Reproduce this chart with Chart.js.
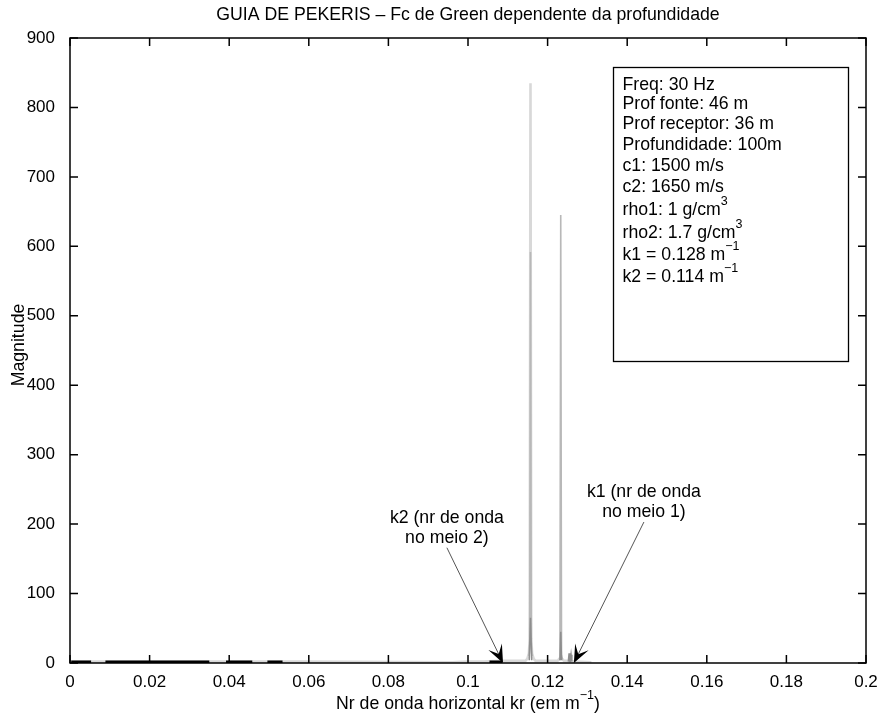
<!DOCTYPE html>
<html>
<head>
<meta charset="utf-8">
<script src="https://cdn.jsdelivr.net/npm/chart.js@4.4.0/dist/chart.umd.min.js"></script>
<style>
  html, body { margin: 0; padding: 0; background: #fff; }
</style>
</head>
<body>
<canvas id="greenChart" width="883" height="718"></canvas>
<script>
// axis ticks
var xTicks = [0, 0.02, 0.04, 0.06, 0.08, 0.1, 0.12, 0.14, 0.16, 0.18, 0.2];
var yTicks = [0, 100, 200, 300, 400, 500, 600, 700, 800, 900];

// light gray trace: baseline and the tall peak near kr = 0.1157
var krLight  = [0, 0.02, 0.04, 0.058, 0.096, 0.100, 0.104, 0.108, 0.111, 0.113, 0.1144, 0.1149, 0.1153, 0.1155, 0.1157, 0.1159, 0.1161, 0.1165, 0.1170, 0.119, 0.121, 0.1225, 0.1229, 0.1233, 0.1237, 0.1241, 0.125, 0.127, 0.131];
var magLight = [2, 2, 2, 2, 1, 2, 2, 3, 3, 3, 3, 6, 14, 35, 835, 35, 14, 6, 3, 3, 3, 3, 6, 8, 6, 3, 3, 2, 1];

// mid gray trace: both main peaks
var krMid  = [0.1153, 0.1155, 0.1157, 0.1159, 0.1161, null, 0.1229, 0.1231, 0.1233, 0.1235, 0.1237];
var magMid = [10, 30, 592, 30, 10, null, 5, 12, 645, 12, 5];

// darker trace: low parts of the peaks and small spikes
var krDark  = [0.1154, 0.1157, 0.1160, null, 0.1231, 0.1233, 0.1235, null, 0.1252, 0.1254, 0.1256, 0.1257, 0.1259, 0.1261];
var magDark = [4, 65, 4, null, 4, 45, 4, null, 2, 14, 2, 2, 12, 2];

// black segments lying on the axis
var krBlack  = [0.0003, 0.0053, null, 0.0089, 0.035, null, 0.0392, 0.0458, null, 0.0496, 0.0534, null, 0.1054, 0.1086];
var magBlack = [1.5, 1.5, null, 1.5, 1.5, null, 1.5, 1.5, null, 1.5, 1.5, null, 1.5, 1.5];

// arrows [tail kr, tail mag, tip kr, tip mag] and their captions
var arrowK2 = [0.0947, 166, 0.1088, 0];
var arrowK1 = [0.1442, 203, 0.1266, 0];
var labelK2 = ['k2 (nr de onda', 'no meio 2)'];
var labelK1 = ['k1 (nr de onda', 'no meio 1)'];

// parameter box lines: [text, superscript]
var infoLines = [
  ['Freq: 30 Hz', ''],
  ['Prof fonte: 46 m', ''],
  ['Prof receptor: 36 m', ''],
  ['Profundidade: 100m', ''],
  ['c1: 1500 m/s', ''],
  ['c2: 1650 m/s', ''],
  ['rho1: 1 g/cm', '3'],
  ['rho2: 1.7 g/cm', '3'],
  ['k1 = 0.128 m', '\u22121'],
  ['k2 = 0.114 m', '\u22121']
];
var infoLineY = [85, 104, 124, 145, 166, 187, 210, 233, 255, 277];

var titleText = 'GUIA DE PEKERIS \u2013 Fc de Green dependente da profundidade';
var yTitle = 'Magnitude';
var xTitle = ['Nr de onda horizontal kr (em m', '\u22121', ')'];

var FONT = "'Liberation Sans', Arial, Helvetica, sans-serif";
var TXT = 17.7;
Chart.defaults.font.family = FONT;
Chart.defaults.font.size = 17;
Chart.defaults.color = '#000';

function pts(xs, ys) {
  return xs.map(function (x, i) { return { x: x === null ? NaN : x, y: ys[i] }; });
}

function font(size) { return size + 'px ' + FONT; }

// write text with an optional raised superscript after it
function supText(ctx, x, y, main, sup) {
  ctx.textAlign = 'left';
  ctx.textBaseline = 'middle';
  ctx.font = font(TXT);
  var w1 = ctx.measureText(main).width;
  ctx.fillText(main, x, y);
  var w2 = 0;
  if (sup) {
    ctx.font = font(12.5);
    w2 = ctx.measureText(sup).width;
    ctx.fillText(sup, x + w1, y - 8);
  }
  return x + w1 + w2;
}

function drawArrow(ctx, x1, y1, x2, y2) {
  var dx = x2 - x1, dy = y2 - y1, len = Math.sqrt(dx * dx + dy * dy);
  var ux = dx / len, uy = dy / len, nx = -uy, ny = ux;
  var L = 18, W = 15;
  ctx.strokeStyle = '#555';
  ctx.lineWidth = 1;
  ctx.beginPath();
  ctx.moveTo(x1, y1);
  ctx.lineTo(x2 - ux * 8, y2 - uy * 8);
  ctx.stroke();
  ctx.fillStyle = '#000';
  ctx.beginPath();
  ctx.moveTo(x2, y2);
  ctx.lineTo(x2 - ux * L + nx * W / 2, y2 - uy * L + ny * W / 2);
  ctx.lineTo(x2 - ux * L * 0.55, y2 - uy * L * 0.55);
  ctx.lineTo(x2 - ux * L - nx * W / 2, y2 - uy * L - ny * W / 2);
  ctx.closePath();
  ctx.fill();
}

var axesBox = {
  id: 'axesBox',
  afterDatasetsDraw: function (chart) {
    var ctx = chart.ctx, a = chart.chartArea;
    var xs = chart.scales.x, ys = chart.scales.y;
    var tl = 8;
    ctx.save();
    ctx.strokeStyle = '#000';
    ctx.lineWidth = 1.5;
    ctx.strokeRect(a.left, a.top, a.right - a.left, a.bottom - a.top);
    ctx.beginPath();
    xTicks.forEach(function (v) {
      var px = xs.getPixelForValue(v);
      ctx.moveTo(px, a.bottom); ctx.lineTo(px, a.bottom - tl);
      ctx.moveTo(px, a.top); ctx.lineTo(px, a.top + tl);
    });
    yTicks.forEach(function (v) {
      var py = ys.getPixelForValue(v);
      ctx.moveTo(a.left, py); ctx.lineTo(a.left + tl, py);
      ctx.moveTo(a.right, py); ctx.lineTo(a.right - tl, py);
    });
    ctx.stroke();
    ctx.restore();
  },
  afterDraw: function (chart) {
    var ctx = chart.ctx, a = chart.chartArea;
    var xs = chart.scales.x, ys = chart.scales.y;
    var cx = (a.left + a.right) / 2;
    ctx.save();
    ctx.fillStyle = '#000';

    // title
    ctx.font = font(TXT);
    ctx.textAlign = 'center';
    ctx.textBaseline = 'middle';
    ctx.fillText(titleText, cx, 15);

    // x axis title with superscript
    ctx.font = font(TXT);
    var w1 = ctx.measureText(xTitle[0]).width;
    var w3 = ctx.measureText(xTitle[2]).width;
    ctx.font = font(12.5);
    var w2 = ctx.measureText(xTitle[1]).width;
    var x0 = cx - (w1 + w2 + w3) / 2;
    var xe = supText(ctx, x0, 704, xTitle[0], xTitle[1]);
    ctx.font = font(TXT);
    ctx.fillText(xTitle[2], xe, 704);

    // y axis title
    ctx.save();
    ctx.translate(19, 345);
    ctx.rotate(-Math.PI / 2);
    ctx.textAlign = 'center';
    ctx.textBaseline = 'middle';
    ctx.font = font(TXT);
    ctx.fillText(yTitle, 0, 0);
    ctx.restore();

    // parameter box
    ctx.strokeStyle = '#000';
    ctx.lineWidth = 1.3;
    ctx.strokeRect(613.5, 67.5, 235, 294);
    infoLines.forEach(function (ln, i) {
      supText(ctx, 622.5, infoLineY[i], ln[0], ln[1]);
    });

    // arrows and captions
    [[arrowK2, labelK2, 518], [arrowK1, labelK1, 492]].forEach(function (it) {
      var ar = it[0];
      var tx = xs.getPixelForValue(ar[0]), ty = ys.getPixelForValue(ar[1]);
      drawArrow(ctx, tx, ty, xs.getPixelForValue(ar[2]), ys.getPixelForValue(ar[3]));
      ctx.fillStyle = '#000';
      ctx.font = font(TXT);
      ctx.textAlign = 'center';
      ctx.textBaseline = 'middle';
      ctx.fillText(it[1][0], tx, it[2]);
      ctx.fillText(it[1][1], tx, it[2] + 20);
    });
    ctx.restore();
  }
};

new Chart(document.getElementById('greenChart'), {
  type: 'line',
  data: {
    datasets: [
      { data: pts(krBlack, magBlack), borderColor: '#000', borderWidth: 3, order: 0 },
      { data: pts(krDark, magDark), borderColor: '#8e8e8e', borderWidth: 1.5, order: 1 },
      { data: pts(krMid, magMid), borderColor: '#b8b8b8', borderWidth: 1.6, order: 2 },
      { data: pts(krLight, magLight), borderColor: '#d8d8d8', borderWidth: 2.6, order: 3 }
    ]
  },
  options: {
    responsive: false,
    animation: false,
    spanGaps: false,
    elements: { point: { radius: 0 }, line: { tension: 0, borderCapStyle: 'butt' } },
    layout: { padding: { top: 38, right: 17, bottom: 0, left: 0 } },
    plugins: { legend: { display: false }, title: { display: false }, tooltip: { enabled: false } },
    scales: {
      x: {
        type: 'linear', min: 0, max: 0.2,
        grid: { display: false }, border: { display: false },
        afterBuildTicks: function (s) { s.ticks = xTicks.map(function (v) { return { value: v }; }); },
        afterFit: function (s) { s.height = 55; },
        ticks: { padding: 1, maxRotation: 0, autoSkip: false, callback: function (v) { return String(v); } }
      },
      y: {
        type: 'linear', min: 0, max: 900,
        grid: { display: false }, border: { display: false },
        afterBuildTicks: function (s) { s.ticks = yTicks.map(function (v) { return { value: v }; }); },
        afterFit: function (s) { s.width = 70; },
        ticks: { padding: 7, autoSkip: false, callback: function (v) { return String(v); } }
      }
    }
  },
  plugins: [axesBox]
});
</script>
</body>
</html>
